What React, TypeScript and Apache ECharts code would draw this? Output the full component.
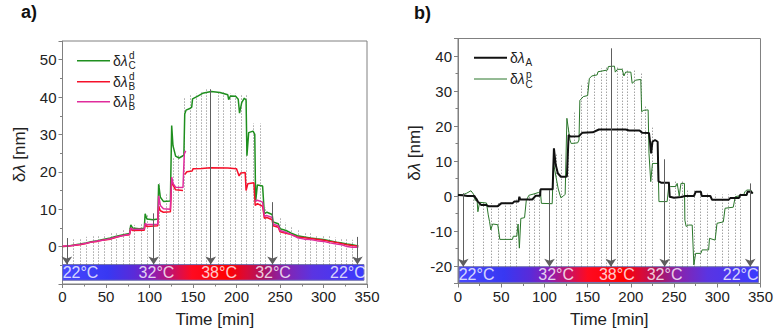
import React, { useEffect, useRef } from 'react';
import * as echarts from 'echarts';

const FONT = '"Liberation Sans", Arial, Helvetica, sans-serif';

// ---------- Panel a data ----------
const greenCdA: [number, number | null][] = [
  [0, 0], [5, 0.1], [12, 0.4], [20, 0.7], [27, 1.0], [33, 1.3], [40, 1.6], [48, 2.0], [55, 2.3], [62, 2.8],
  [70, 3.2], [77, 3.5], [78.5, 5.8], [80.5, 5.0], [88, 4.8], [94, 4.9], [95, 8.8], [97, 7.4], [104, 7.2],
  [109.5, 7.4], [110.5, 16.7], [112.5, 13.2], [116, 12.1], [124, 12.2], [125.5, 32.4], [127, 27], [130, 24.2],
  [134, 23.7], [138.5, 24.3], [139.5, 24.5], [140.5, 35.5], [142, 36.5], [147, 37], [148.5, 37.3], [149.5, 39.5],
  [155, 40.2], [161, 41], [171, 41.5], [181, 41.2], [190, 40.6], [191, 39.3], [193, 40.3], [199, 40.2],
  [202, 39.4], [203.5, 35.7], [206, 38.5], [209, 39.7], [211, 39.2], [212, 24.3], [214, 30.5], [219, 30.9],
  [221, 30], [222, 12], [224, 16.5], [230, 16.2], [232, 8.8], [235, 9.2], [241, 8.6], [242, 6.6], [248, 6.1],
  [250, 4.8], [257, 4.3], [263, 3.6], [270, 2.9], [278, 2.6], [285, 2.3], [292, 2.1], [300, 1.9], [307, 1.6],
  [315, 1.2], [321, 1.0], [327, 0.7], [333, 0.5], [340, 0.2],
];
const redBdA: [number, number | null][] = [
  [0, 0], [12, 0.3], [20, 0.5], [27, 0.8], [33, 1.2], [40, 1.4], [48, 1.8], [55, 2.0], [62, 2.5], [70, 3.0],
  [77, 3.2], [78.5, 4.7], [80.5, 4.3], [94, 4.4], [95, 5.8], [97, 5.4], [109.5, 5.6], [110.5, 10.8],
  [112.5, 9.6], [116, 9.2], [124, 9.3], [125.5, 18], [127, 16.5], [130, 15.2], [138.5, 15], [139.5, null],
  [140.5, 19.3], [143, 20], [149, 20.2], [150, 20.8], [160, 20.9], [170, 21.1], [190, 21.0], [200, 20.8],
  [203, 18.9], [205, 19.7], [210, 19.8], [211, 15], [213, 16.8], [220, 17.1], [221.5, 11], [224, 11.5],
  [230, 10.8], [232, 7.6], [235, 7.8], [241, 7.2], [242, 5.6], [248, 5.2], [250, 4.0], [257, 3.6], [263, 3.2],
  [270, 2.6], [278, 2.4], [285, 2.2], [292, 2.0], [300, 1.7], [307, 1.4], [315, 1.1], [321, 0.8], [327, 0.5],
  [333, 0.3], [340, 0.1],
];
const pinkBpA: [number, number | null][] = [
  [0, 0.1], [12, 0.3], [20, 0.6], [27, 0.9], [33, 1.2], [40, 1.5], [48, 1.8], [55, 2.1], [62, 2.6], [70, 3.0],
  [77, 3.3], [78.5, 5.0], [80.5, 4.6], [94, 4.7], [95, 6.2], [97, 5.9], [109.5, 6.0], [110.5, 13.6],
  [112.5, 11], [116, 10.1], [124, 10.0], [125.5, 18.6], [127, 16.9], [130, 15.9], [138.5, 15.8], [140, 24.8],
  [141.6, 25.6], [142, null], [221.5, 12.2], [224, 12.4], [230, 11.9], [232, 8.1], [235, 8.3], [241, 7.8],
  [242, 6.0], [248, 5.6], [250, 4.3], [257, 3.8], [263, 3.2], [270, 2.4], [278, 2.0], [285, 1.9], [292, 1.6],
  [300, 1.4], [307, 1.0], [315, 0.7], [321, 0.5], [327, 0.0], [333, -0.2], [340, -0.2],
];

// dotted guide lines (time, top value) and arrows (time, top value), panel a
const dottedTimesA = [12.7, 20.3, 27.2, 34.9, 41.4, 48.4, 56, 61.8, 69.5, 77.1, 82.9, 90.6, 97.1, 111.7, 119.4,
  127, 133.5, 140.5, 147.4, 153.9, 159.7, 165.4, 178.8, 184.6, 192.3, 198, 205.7, 211.5, 219.1, 226.8, 233.3,
  249.8, 255.6, 263.3, 271, 278.6, 285.2, 292.1, 299.8, 306.3, 313.2, 320.1, 326.6, 333.5];
const dottedTopsA = [2.2, 2.3, 2.6, 2.8, 3.0, 3.3, 3.6, 4.0, 4.3, 5.0, 5.8, 6.0, 8.5, 17, 14, 24, 24.5, 40, 40.5,
  41, 41.5, 42, 41.5, 41.5, 41, 41, 40.5, 40.5, 33, 33, 10.5, 7.5, 6.5, 5.5, 4.3, 3.8, 3.5, 3.2, 3.0, 2.8, 2.5,
  2.2, 2.0, 1.8];
const arrowTimesA = [5, 104.8, 170.4, 241.4, 339];
const arrowTopsA = [2.3, 8.9, 42.1, 11.9, 2.6];
const barA = { start: 0, end: 346.5, top: -4.8, bottom: -9.0 };

// ---------- Panel b data ----------
const blackAB: [number, number | null][] = [
  [0, 0.3], [5, 0.2], [11, 0], [19, 0], [23, -1.6], [27, -2.6], [33, -2.6], [35, -2.9], [46, -2.9], [50, -2.1],
  [63, -2.1], [65, -1.6], [70, -1.6], [71, -0.2], [72, -1.0], [86, -1.0], [90, 0.1], [95, 0.1], [95.5, 1.9],
  [109.5, 1.9], [111, 13.6], [113, 9], [115.5, 6.5], [119, 5.5], [124, 5.5], [126, 5.6], [128, 17.4],
  [130, 17.0], [140, 17.1], [144, 18.1], [156, 18.2], [163, 19.0], [194, 19.0], [198, 18.7], [210, 18.7],
  [213, 18.1], [221, 18.0], [222, 16], [223.5, 12.2], [225, 15.5], [228, 16.0], [231, 15.5], [232, 4.2],
  [235, 3.8], [244, 3.8], [245, -0.2], [250, -0.5], [258, -0.3], [263, 0], [273, 0], [275, 1.2], [281, 1.2],
  [282, 0], [292, 0], [294, -1.1], [313, -1.1], [315, -0.6], [325, -0.6], [326.5, 0.3], [334, 0.3], [335, 1.2],
  [339, 1.2], [341, 0.7],
];
const greenCpB: [number, number | null][] = [
  [0, 0.5], [5, 0.3], [10, 0.8], [15, 1.5], [18, 0.5], [20, -1.3], [22, -0.8], [23, -4.5], [25, -1.8],
  [33, -2.0], [35, -5.4], [36.5, -7.3], [38, -9.7], [40, -8.0], [46, -8.2], [48.4, -12.4], [63, -12.4],
  [64, -11.5], [68, -11.5], [69.5, -8], [71, -14.9], [72.7, -6.4], [77, -6.2], [79, -1.3], [82, 0.2], [88, 0.6],
  [93, 1.0], [95.5, 0.8], [96.5, -2.1], [109, -2.2], [110.5, 9.5], [113, 6], [116, 2], [119, -0.5], [122, 0],
  [124, 0.5], [126, 22.2], [129.5, 16], [131, 15], [138.5, 15.2], [140, 16], [141, 27.3], [145, 28.4],
  [150, 28.7], [152, 33.6], [155, 34.3], [161, 34.6], [162, 35.5], [173, 36], [174, 37], [181, 37.1],
  [182, 35.4], [184.5, 36.2], [190, 36.2], [192, 34.3], [194, 35.4], [200, 35.4], [201.5, 32.2], [205.7, 33.1],
  [211.5, 33.3], [212.5, 24.1], [215, 24.5], [220, 24.6], [221, 12.2], [223, 4.1], [225, 9.3], [231.5, 9.3],
  [232.5, -1.6], [242, -1.6], [244, 3.1], [246, 2.7], [252, 2.7], [253.6, 3.6], [256, 0], [258, 3.6],
  [262, 3.6], [262.5, -6.9], [264, -8.7], [267, -8.3], [271, -8.3], [272.9, -19.7], [275, -16.4], [281, -16.4],
  [282.5, -15.4], [290, -15.4], [291, -12.1], [297.5, -12.6], [299.7, -7.8], [307, -7.4], [309, -3.5],
  [318.5, -3.2], [320.8, -0.2], [330.5, 0.3], [332, 1.2], [334, 1.7], [339, 1.7], [341, 0.7],
];
const dottedTimesB = [17.7, 29.2, 38.8, 46.5, 54.1, 59.9, 67.5, 82.9, 88.6, 94.4, 113.6, 119.4, 127, 134.7,
  142.4, 150, 157.7, 165.4, 171.2, 184.6, 190.3, 196.1, 203.8, 211.5, 217.2, 224.9, 244.1, 251.8, 259.4, 265.2,
  272.9, 280.6, 288.2, 297.8, 305.4, 313.1, 320.8, 326.6];
const dottedTopsB = [0.5, -1.5, -2, -2, -1.5, -1.5, -1, 0, 1, 1.5, 12, 12, 20, 24, 32, 33, 35.5, 36.5, 37, 37,
  36.5, 36, 36, 35.5, 26, 19.5, 4.5, 4.5, 4.5, 2, 2, 2, 1, 0.5, 0.5, 0.5, 0.5, 1];
const arrowTimesB = [6.1, 105.9, 176.9, 239.1, 338.1];
const arrowTopsB = [0.8, 1.7, 42.2, 10.5, 3.6];
const barB = { start: 1.2, end: 347.7, top: -20.2, bottom: -24.7 };

// temperature labels on the colour bar
const tempLabels = ['22°C', '32°C', '38°C', '32°C', '22°C'];
const tempPosA = [20.7, 108, 180, 242, 328];
const tempPosB = [21.5, 113.6, 183.8, 239, 327];

const barStops = [
  { offset: 0, color: '#4646ff' },
  { offset: 0.15, color: '#3838f2' },
  { offset: 0.24, color: '#5a2ad8' },
  { offset: 0.3, color: '#8c1cb4' },
  { offset: 0.37, color: '#cc1060' },
  { offset: 0.43, color: '#ff0a20' },
  { offset: 0.55, color: '#ff0000' },
  { offset: 0.61, color: '#d80a38' },
  { offset: 0.67, color: '#aa1464' },
  { offset: 0.73, color: '#8a22aa' },
  { offset: 0.83, color: '#5a34e2' },
  { offset: 1, color: '#3a3aff' },
];

const AXIS_COLOR = '#808080';

function xAxisFor(gridIndex: number) {
  return {
    type: 'value', gridIndex, min: 0, max: 350, interval: 50,
    axisLine: { show: true, onZero: false, lineStyle: { color: AXIS_COLOR } },
    axisTick: { show: true, length: 4, lineStyle: { color: AXIS_COLOR } },
    minorTick: { show: true, splitNumber: 2, length: 2.5, lineStyle: { color: AXIS_COLOR } },
    splitLine: { show: false },
    axisLabel: { fontSize: 15, color: '#222', fontFamily: FONT, margin: 5 },
    name: 'Time [min]', nameLocation: 'middle', nameGap: 27,
    nameTextStyle: { fontSize: 17, color: '#222', fontFamily: FONT },
  };
}

function yAxisFor(gridIndex: number, min: number, max: number, extra: any) {
  return {
    type: 'value', gridIndex, min, max, ...extra,
    axisLine: { show: true, onZero: false, lineStyle: { color: AXIS_COLOR } },
    axisTick: { show: true, length: 4, lineStyle: { color: AXIS_COLOR } },
    minorTick: { show: true, splitNumber: 2, length: 2.5, lineStyle: { color: AXIS_COLOR } },
    splitLine: { show: false },
    axisLabel: {
      fontSize: 15, color: '#222', fontFamily: FONT, margin: 6,
      formatter: (v: number) => (Math.round(v) % 10 === 0 && v >= (gridIndex === 0 ? 0 : -20) ? String(v) : ''),
    },
    name: '{n|δ}{i|λ} [nm]', nameLocation: 'middle', nameGap: 35,
    nameTextStyle: {
      fontSize: 17, color: '#222', fontFamily: FONT, padding: [0, 0, 0, 16],
      rich: { n: { fontSize: 17, fontFamily: FONT, color: '#222' }, i: { fontSize: 17, fontStyle: 'italic', fontFamily: FONT, color: '#222' } },
    },
  };
}

function annotationSeries(ax: number, times: number[], tops: number[], bar: any, aTimes: number[], aTops: number[], pos: number[]) {
  const barMid = (bar.top + bar.bottom) / 2;
  return [
    {
      type: 'line', xAxisIndex: ax, yAxisIndex: ax, data: [], silent: true, z: 1,
      markArea: {
        silent: true, z: 1,
        itemStyle: {
          color: { type: 'linear', x: 0, y: 0, x2: 1, y2: 0, colorStops: barStops },
          borderColor: '#7070b0', borderWidth: 1,
        },
        data: [[{ coord: [bar.start, bar.top] }, { coord: [bar.end, bar.bottom] }]],
      },
      markLine: {
        silent: true, z: 1, symbol: 'none', label: { show: false },
        lineStyle: { type: [1, 2], color: '#6a6a6a', width: 0.9 },
        emphasis: { disabled: true },
        data: times.map((t, i) => [{ coord: [t, bar.top] }, { coord: [t, tops[i]] }]),
      },
    },
    {
      type: 'line', xAxisIndex: ax, yAxisIndex: ax, data: [], silent: true, z: 4,
      markLine: {
        silent: true, z: 4, symbol: ['none', 'arrow'], symbolSize: 8, label: { show: false },
        lineStyle: { type: 'solid', color: '#5e5e5e', width: 1 },
        itemStyle: { color: '#5e5e5e' },
        emphasis: { disabled: true },
        data: aTimes.map((t, i) => [{ coord: [t, aTops[i]] }, { coord: [t, bar.top] }]),
      },
    },
    {
      type: 'scatter', xAxisIndex: ax, yAxisIndex: ax, silent: true, z: 6,
      symbolSize: 1, itemStyle: { color: 'rgba(0,0,0,0)' },
      label: { show: true, position: 'inside', formatter: '{b}', color: '#fff', fontSize: 16, fontFamily: FONT },
      data: pos.map((t, i) => ({ name: tempLabels[i], value: [t, barMid] })),
    },
  ];
}

function lineSeries(ax: number, name: string, data: any[], color: string, width: number) {
  return {
    type: 'line', name, xAxisIndex: ax, yAxisIndex: ax, data, color,
    showSymbol: false, symbol: 'none', connectNulls: false, z: 3,
    lineStyle: { color, width },
  };
}

const GREEN_A = '#1f8f1f';
const RED_A = '#f5102a';
const PINK_A = '#e02c9c';
const BLACK_B = '#111111';
const GREEN_B = '#2a762a';

function legendItem(x: number, y: number, color: string, width: number, sup: string, sub: string) {
  const els: any[] = [
    { type: 'line', shape: { x1: x, y1: y, x2: x + 33, y2: y }, style: { stroke: color, lineWidth: width } },
    {
      type: 'text', x: x + 36, y,
      style: {
        text: '{n|δ}{i|λ}', verticalAlign: 'middle', textVerticalAlign: 'middle', fill: '#222',
        rich: { n: { fontSize: 14, fontFamily: FONT }, i: { fontSize: 14, fontStyle: 'italic', fontFamily: FONT } },
      },
    },
  ];
  if (sup) els.push({ type: 'text', x: x + 52, y: y - 5, style: { text: sup, fontSize: 10, fontFamily: FONT, fill: '#222', verticalAlign: 'middle', textVerticalAlign: 'middle' } });
  if (sub) els.push({ type: 'text', x: x + 51.5, y: y + 5, style: { text: sub, fontSize: 10, fontFamily: FONT, fill: '#222', verticalAlign: 'middle', textVerticalAlign: 'middle' } });
  return els;
}

export default function App() {
  const ref = useRef<HTMLDivElement>(null);
  useEffect(() => {
    document.body.style.margin = '0';
    if (!ref.current) return;
    const chart = echarts.init(ref.current, undefined, { renderer: 'svg' });
    const option: any = {
      animation: false,
      backgroundColor: '#ffffff',
      title: [
        { text: 'a)', left: 21, top: 3, padding: 0, textStyle: { fontSize: 18, fontWeight: 'bold', fontFamily: FONT, color: '#111' } },
        { text: 'b)', left: 414, top: 4, padding: 0, textStyle: { fontSize: 18, fontWeight: 'bold', fontFamily: FONT, color: '#111' } },
      ],
      grid: [
        { left: 62.5, top: 41, width: 304.5, height: 244.5, show: true, borderColor: AXIS_COLOR, borderWidth: 1, backgroundColor: 'transparent' },
        { left: 458, top: 38.5, width: 304, height: 245, show: true, borderColor: AXIS_COLOR, borderWidth: 1, backgroundColor: 'transparent' },
      ],
      xAxis: [xAxisFor(0), xAxisFor(1)],
      yAxis: [
        yAxisFor(0, -10, 55, { interval: 10 }),
        yAxisFor(1, -25, 45, { splitNumber: 7 }),
      ],
      graphic: [
        ...legendItem(77, 60.7, GREEN_A, 1.5, 'd', 'C'),
        ...legendItem(77, 81.7, RED_A, 1.5, 'd', 'B'),
        ...legendItem(77, 101.7, PINK_A, 1.5, 'p', 'B'),
        ...legendItem(474, 57.7, BLACK_B, 2, '', 'A'),
        ...legendItem(474, 79, GREEN_B, 1, 'p', 'C'),
      ],
      series: [
        ...annotationSeries(0, dottedTimesA, dottedTopsA, barA, arrowTimesA, arrowTopsA, tempPosA),
        ...annotationSeries(1, dottedTimesB, dottedTopsB, barB, arrowTimesB, arrowTopsB, tempPosB),
        lineSeries(0, 'δλCd', greenCdA, GREEN_A, 1.5),
        lineSeries(0, 'δλBd', redBdA, RED_A, 1.5),
        lineSeries(0, 'δλBp', pinkBpA, PINK_A, 1.5),
        lineSeries(1, 'δλCp', greenCpB, GREEN_B, 1),
        lineSeries(1, 'δλA', blackAB, BLACK_B, 2),
      ],
    };
    chart.setOption(option);
    return () => chart.dispose();
  }, []);
  return <div ref={ref} style={{ width: 776, height: 333 }} />;
}
